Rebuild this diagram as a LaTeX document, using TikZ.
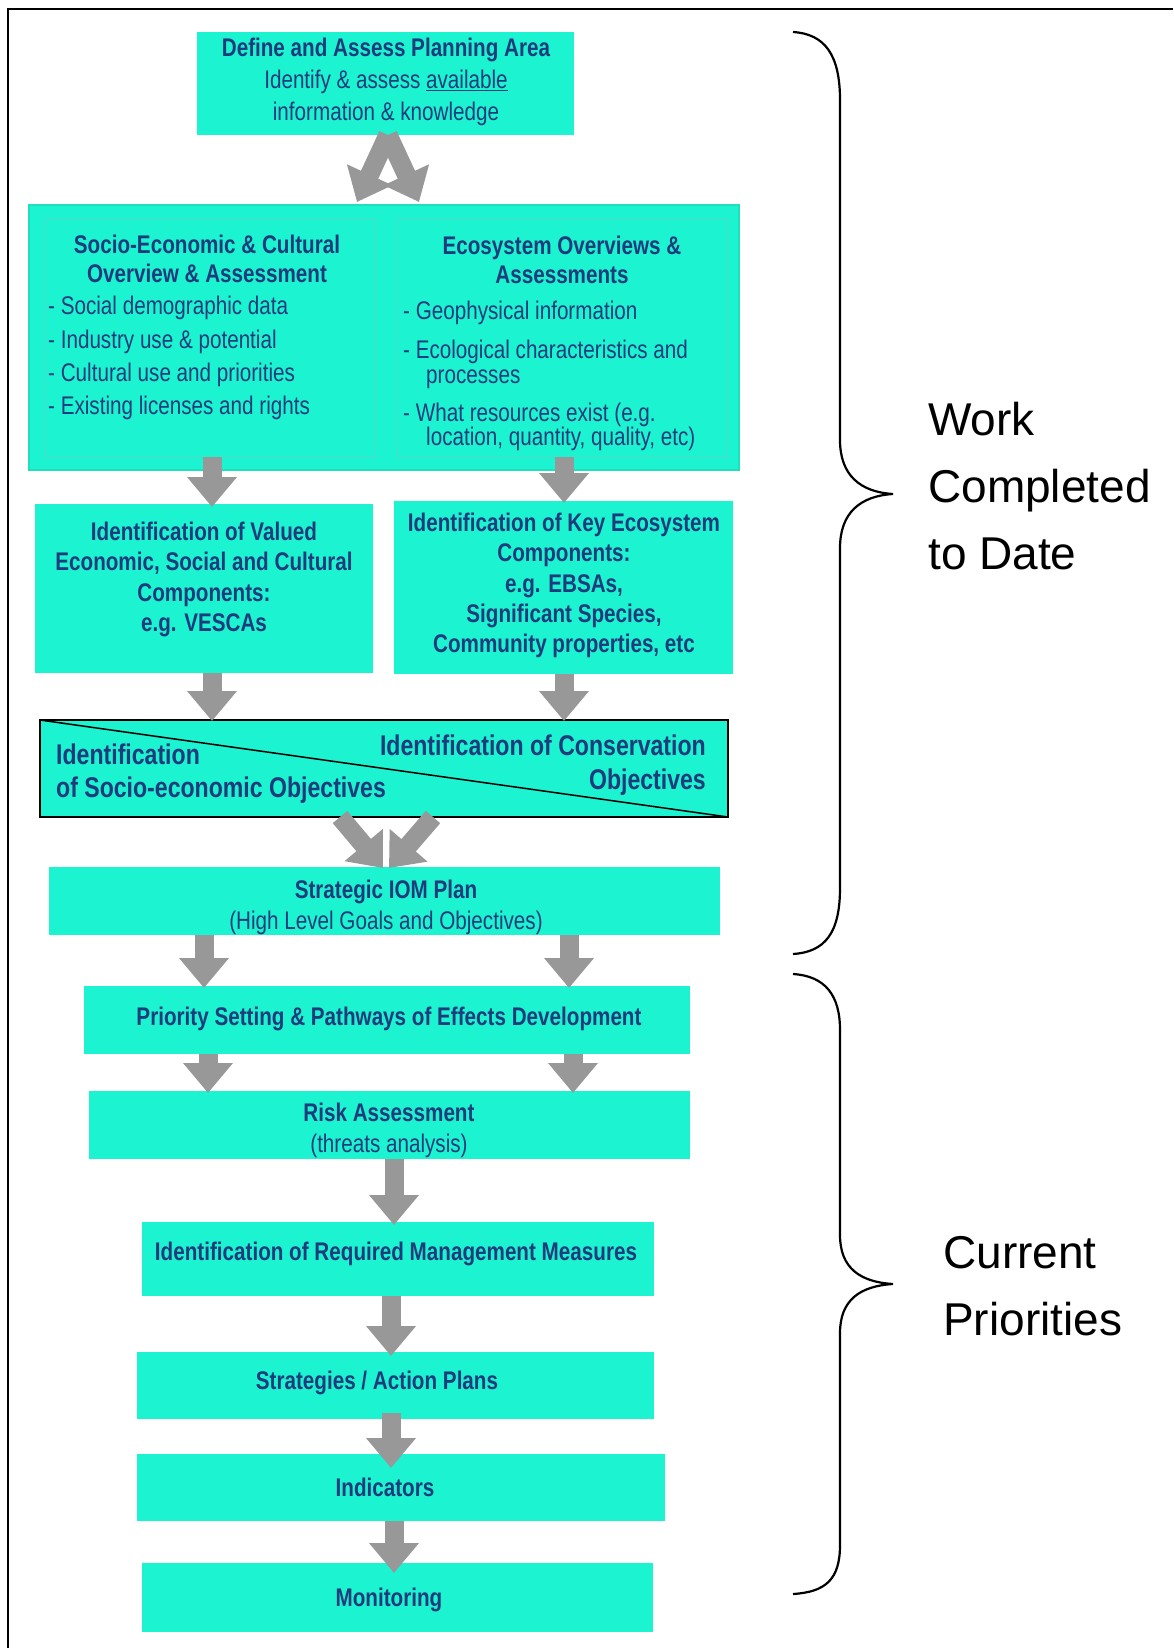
\documentclass[tikz,border=0pt]{standalone}
\usepackage{fontspec}
\setmainfont{Liberation Sans}
\newfontfamily\boxfont[FakeStretch=0.81]{Liberation Sans}
\usetikzlibrary{arrows.meta,calc}
\definecolor{boxfill}{HTML}{1CF3D0}
\definecolor{boxedge}{HTML}{22DDBE}
\definecolor{paneledge}{HTML}{4FDCC6}
\definecolor{boxtext}{HTML}{1E3C7C}
\definecolor{flowgray}{HTML}{989898}

\begin{document}
\begin{tikzpicture}[x=1pt,y=-1pt,
  stage/.style={fill=boxfill, draw=none, inner sep=0pt, outer sep=0pt, anchor=north west},
  boxtxt/.style={text=boxtext, font=\boxfont\fontsize{25.5}{31}\selectfont, align=center, inner sep=0pt},
  itemtxt/.style={text=boxtext, font=\boxfont\fontsize{25.5}{30}\selectfont, anchor=west, inner sep=0pt,
    text height=18pt, text depth=5pt},
  objtxt/.style={text=boxtext, font=\boxfont\fontsize{28.5}{33}\selectfont\bfseries, inner sep=0pt,
    text height=20pt, text depth=6pt},
  flow/.style={draw=flowgray, line width=19pt, -{Triangle[width=48pt,length=30pt]}},
  bracetxt/.style={font=\fontsize{46}{67}\selectfont, align=left, anchor=west, inner sep=0pt},
  brace/.style={draw=black, line width=2.2pt}]

\useasboundingbox (0,0) rectangle (1173,1648);
\fill[white] (0,0) rectangle (1173,1648);

% outer frame (left and top edges)
\draw[line width=2.5pt] (8,1648) -- (8,9) -- (1173,9);

% ---------- boxes ----------
\node[stage, minimum width=377pt, minimum height=103pt] (define) at (197,32) {};
\node[stage, minimum width=710pt, minimum height=265pt, draw=boxedge, line width=1.2pt] (big) at (29,205) {};
\node[stage, minimum width=330pt, minimum height=239pt, draw=paneledge, line width=0.8pt] (lpanel) at (45,218) {};
\node[stage, minimum width=330pt, minimum height=239pt, draw=paneledge, line width=0.8pt] (rpanel) at (397,218) {};
\node[stage, minimum width=338pt, minimum height=169pt] (vesc) at (35,504) {};
\node[stage, minimum width=339pt, minimum height=173pt] (keyeco) at (394,501) {};
\node[stage, minimum width=688pt, minimum height=97pt, draw=black, line width=2pt] (obj) at (40,720) {};
\draw[line width=1.5pt] (obj.north west) -- (obj.south east);
\node[stage, minimum width=671pt, minimum height=68pt] (iom) at (49,867) {};
\node[stage, minimum width=606pt, minimum height=68pt] (prio) at (84,986) {};
\node[stage, minimum width=601pt, minimum height=68pt] (risk) at (89,1091) {};
\node[stage, minimum width=512pt, minimum height=74pt] (idreq) at (142,1222) {};
\node[stage, minimum width=517pt, minimum height=67pt] (strat) at (137,1352) {};
\node[stage, minimum width=528pt, minimum height=67pt] (ind) at (137,1454) {};
\node[stage, minimum width=511pt, minimum height=69pt] (mon) at (142,1563) {};

% ---------- box texts ----------
\node[boxtxt, font=\boxfont\fontsize{25.5}{32}\selectfont] (tdefine) at (386,82)
  {\bfseries Define and Assess Planning Area\\Identify \& assess \underline{available}\\information \& knowledge};

\node[boxtxt, font=\boxfont\fontsize{25.5}{29}\selectfont\bfseries] (tsocio) at (207,258.5)
  {Socio-Economic \& Cultural\\Overview \& Assessment};
\node[itemtxt] (s1) at (48,308) {- Social demographic data};
\node[itemtxt] (s2) at (48,342) {- Industry use \& potential};
\node[itemtxt] (s3) at (48,375) {- Cultural use and priorities};
\node[itemtxt] (s4) at (48,408) {- Existing licenses and rights};

\node[boxtxt, font=\boxfont\fontsize{25.5}{29}\selectfont\bfseries] (teco) at (562,259.5)
  {Ecosystem Overviews \&\\Assessments};
\node[itemtxt] (e1) at (403,313) {- Geophysical information};
\node[itemtxt] (e2) at (403,352) {- Ecological characteristics and};
\node[itemtxt] (e3) at (426,377) {processes};
\node[itemtxt] (e4) at (403,415) {- What resources exist (e.g.};
\node[itemtxt] (e5) at (426,439) {location, quantity, quality, etc)};

\node[boxtxt, font=\boxfont\fontsize{25.5}{30.5}\selectfont\bfseries] (tvesc) at (204,579.5)
  {Identification of Valued\\Economic, Social and Cultural\\Components:\\e.g. VESCAs};
\node[boxtxt, font=\boxfont\fontsize{25.5}{30.3}\selectfont\bfseries] (tkey) at (564,585.5)
  {Identification of Key Ecosystem\\Components:\\e.g. EBSAs,\\Significant Species,\\Community properties, etc};

\node[objtxt, anchor=west] (o1) at (56,757) {Identification};
\node[objtxt, anchor=west] (o2) at (56,790) {of Socio-economic Objectives};
\node[objtxt, anchor=east] (o3) at (706,748) {Identification of Conservation};
\node[objtxt, anchor=east] (o4) at (706,782) {Objectives};

\node[boxtxt] (tiom) at (386,907.5) {\bfseries Strategic IOM Plan\\(High Level Goals and Objectives)};
\node[boxtxt, font=\boxfont\fontsize{25.5}{31}\selectfont\bfseries] (tprio) at (389,1019)
  {Priority Setting \& Pathways of Effects Development};
\node[boxtxt] (trisk) at (389,1130.5) {\bfseries Risk Assessment\\(threats analysis)};
\node[boxtxt, font=\boxfont\fontsize{25.5}{31}\selectfont\bfseries] (tidreq) at (396,1254)
  {Identification of Required Management Measures};
\node[boxtxt, font=\boxfont\fontsize{25.5}{31}\selectfont\bfseries] (tstrat) at (377,1383) {Strategies / Action Plans};
\node[boxtxt, font=\boxfont\fontsize{25.5}{31}\selectfont\bfseries] (tind) at (385,1487) {Indicators};
\node[boxtxt, font=\boxfont\fontsize{25.5}{31}\selectfont\bfseries] (tmon) at (389,1600) {Monitoring};

% ---------- flow arrows ----------
\draw[flow] ([xshift=2.5pt]define.south) -- ([xshift=-27pt,yshift=3pt]big.north);
\draw[flow] ([xshift=2.5pt]define.south) -- ([xshift=35pt,yshift=3pt]big.north);

\draw[flow] ([xshift=2pt]lpanel.south) -- ([xshift=8pt,yshift=-3pt]vesc.north);
\draw[flow] ([xshift=2pt]rpanel.south) -- ([xshift=0.5pt,yshift=-2pt]keyeco.north);

\draw[flow] ([xshift=8pt]vesc.south) -- ([xshift=-172pt,yshift=-1pt]obj.north);
\draw[flow] ([xshift=0.5pt]keyeco.south) -- ([xshift=180pt,yshift=-1pt]obj.north);

\draw[flow] ([xshift=-44pt]obj.south) -- ([xshift=-1.5pt,yshift=-1pt]iom.north);
\draw[flow] ([xshift=49pt]obj.south) -- ([xshift=4.5pt,yshift=-1pt]iom.north);

\draw[flow] ([xshift=-180.5pt]iom.south) -- ([xshift=-183pt,yshift=-2pt]prio.north);
\draw[flow] ([xshift=184.5pt]iom.south) -- ([xshift=182pt,yshift=-2pt]prio.north);

\draw[flow] ([xshift=-179pt]prio.south) -- ([xshift=-181.5pt,yshift=-2pt]risk.north);
\draw[flow] ([xshift=186pt]prio.south) -- ([xshift=183.5pt,yshift=-2pt]risk.north);

\draw[flow] ([xshift=4.5pt]risk.south) -- ([xshift=-4pt,yshift=-3pt]idreq.north);
\draw[flow] ([xshift=-7pt]idreq.south) -- ([xshift=-4.5pt,yshift=-4pt]strat.north);
\draw[flow] ([xshift=-4.5pt,yshift=6pt]strat.south) -- ([xshift=-10pt,yshift=-14pt]ind.north);
\draw[flow] ([xshift=-7pt]ind.south) -- ([xshift=-3.5pt,yshift=-10pt]mon.north);

% ---------- braces and labels ----------
\draw[brace] (793,32) .. controls (825,34) and (840,55) .. (840,100) -- (840,440)
  .. controls (840,475) and (860,492) .. (893,494)
  .. controls (860,496) and (840,513) .. (840,548) -- (840,888)
  .. controls (840,933) and (825,952) .. (793,954);
\draw[brace] (793,974) .. controls (825,976) and (840,995) .. (840,1030) -- (840,1235)
  .. controls (840,1268) and (860,1282) .. (893,1284)
  .. controls (860,1286) and (840,1300) .. (840,1333) -- (840,1545)
  .. controls (840,1580) and (825,1592) .. (793,1594);

\node[bracetxt] (work) at (928,486) {Work\\Completed\\to Date};
\node[bracetxt] (current) at (943,1286) {Current\\Priorities};

\end{tikzpicture}
\end{document}
